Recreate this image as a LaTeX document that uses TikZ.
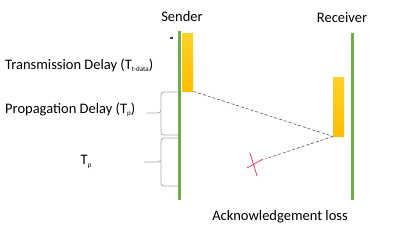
\documentclass[tikz,border=0pt]{standalone}
\usepackage{fontspec}
\setmainfont{Carlito}
\definecolor{lifegreen}{RGB}{112,173,71}
\definecolor{barfill}{RGB}{255,196,0}
\definecolor{bartop}{RGB}{255,210,40}
\definecolor{msgline}{RGB}{68,84,106}
\definecolor{bracegray}{RGB}{170,170,170}
\definecolor{lossred}{RGB}{232,40,70}
\newcommand\subtxt[1]{\raisebox{-0.35ex}{\fontsize{7}{8}\selectfont #1}}
\tikzset{
  lifeline/.style={lifegreen, line width=3pt},
  framebar/.style={draw=none, top color=bartop, bottom color=barfill!90!orange, minimum width=11pt, inner sep=0pt},
  msg/.style={msgline, densely dashed, line width=0.6pt},
  bracket/.style={bracegray, line width=0.8pt, rounded corners=3pt},
  lbl/.style={font=\fontsize{14.5}{16}\selectfont, inner sep=0pt}
}
\begin{document}
\begin{tikzpicture}[x=1pt,y=-1pt]
\useasboundingbox (0,0) rectangle (400,248);

\coordinate (STop) at (179,31);
\coordinate (SBot) at (179,200);
\coordinate (RTop) at (352,33);
\coordinate (RBot) at (352,200);

\draw[lifeline] (STop) -- (SBot);
\draw[lifeline] (RTop) -- (RBot);

\node[framebar, minimum height=58pt, anchor=north west] (sbar) at (182,33) {};
\node[framebar, minimum height=59pt, anchor=north west] (rbar) at (333,77) {};

\node[lbl] (sender) at (182,17) {Sender};
\node[lbl] (receiver) at (342,18) {Receiver};

\fill[msgline!70!blue] (170,37) rectangle (172.5,39.5);

\node[lbl, anchor=west] (ttrans) at (5,65) {Transmission Delay (T\subtxt{t-data})};
\node[lbl, anchor=west] (tprop) at (5,110) {Propagation Delay (T\subtxt{p})};
\node[lbl] (tp) at (86,162) {T\subtxt{p}};
\node[lbl] (loss) at (280,217) {Acknowledgement loss};

% frame and lost ack
\coordinate (X) at (265,159);
\draw[msg] (sbar.south east) -- (rbar.south west);
\draw[msg] (rbar.south west) -- (X);
\draw[lossred, line width=0.7pt] (250,153) -- (257,176);
\draw[lossred, line width=0.7pt] (247,168) -- (263,159);

% braces
\draw[bracket] (178,92) -- (161,92) -- (161,113) -- (146,113);
\draw[bracket] (161,112) -- (161,135) -- (178,135);
\draw[bracket] (178,138) -- (161,138) -- (161,162) -- (144,162);
\draw[bracket] (161,161) -- (161,186) -- (178,186);
\end{tikzpicture}
\end{document}
